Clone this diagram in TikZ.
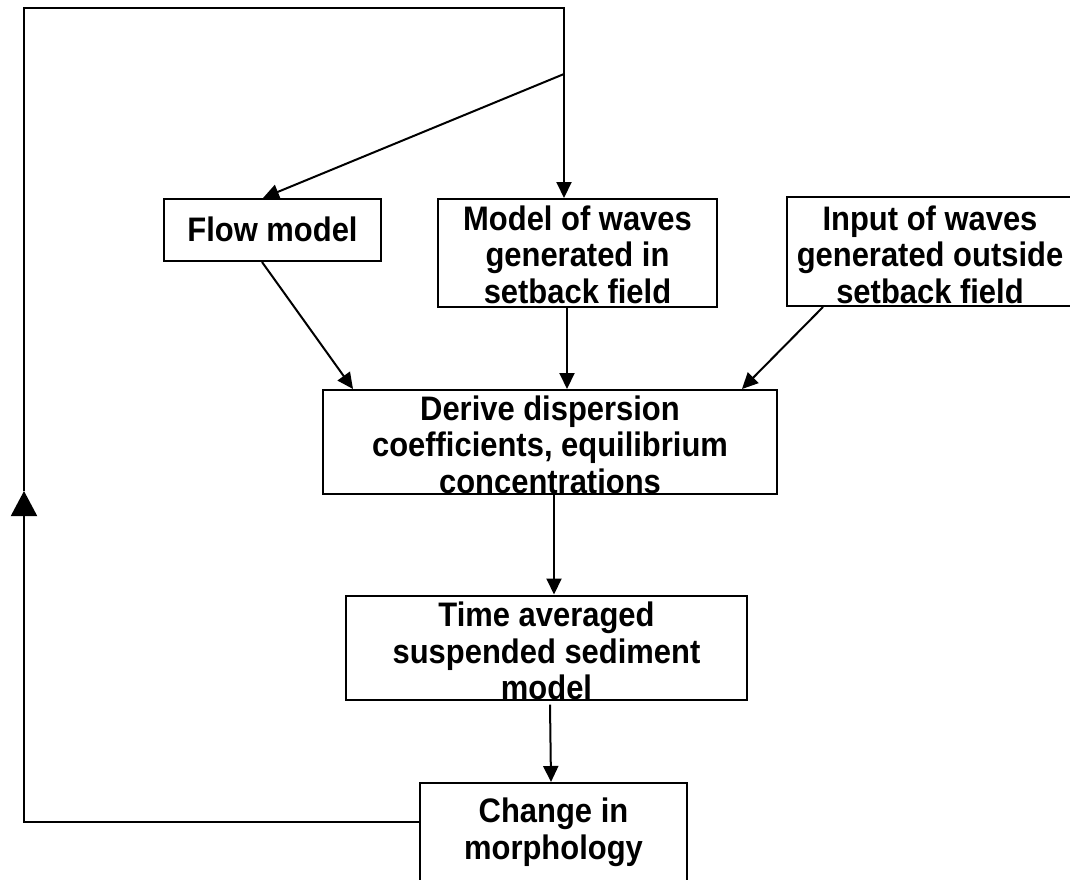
\documentclass[tikz,border=0pt]{standalone}
\usepackage{fontspec}
\setmainfont{Liberation Sans}[FakeStretch=0.91]
\usetikzlibrary{arrows.meta}
\begin{document}
\begin{tikzpicture}[x=1pt,y=-1pt,
    box/.style={draw,line width=2pt,inner sep=0pt,align=center,
      font=\fontsize{34}{36.5}\selectfont\bfseries},
    arr/.style={line width=2pt,-{Triangle[length=16pt,width=15pt]}},
    bigarr/.style={line width=2pt,-{Triangle[length=25pt,width=26pt]}}]
  \useasboundingbox (0,0) rectangle (1070,879);
  \node[box,minimum width=217pt,text height=42pt,text depth=20pt]
    (flow) at (272.5,230) {Flow model};
  \node[box,minimum width=279pt,text height=104pt,text depth=4pt]
    (waves) at (577.5,253) {Model of waves\\generated in\\setback field};
  \node[box,minimum width=286pt,text height=106pt,text depth=3pt]
    (input) at (930,251.5) {Input of waves\\generated outside\\setback field};
  \node[box,minimum width=454pt,text height=103pt,text depth=1pt]
    (derive) at (550,442) {Derive dispersion\\coefficients, equilibrium\\concentrations};
  \node[box,minimum width=401pt,text height=104pt,text depth=-3pt]
    (timeavg) at (546.5,647.5) {Time averaged\\suspended sediment\\model};
  \node[box,minimum width=267pt,text height=76pt,text depth=28pt]
    (change) at (553.5,835) {Change in\\morphology};
  % feedback loop
  \coordinate (loopbl) at (24,822);
  \coordinate (looptip) at (24,491);
  \coordinate (looptl) at (24,8);
  \coordinate (looptr) at (564,8);
  \coordinate (split) at (564,74);
  \draw[bigarr] ([yshift=13pt]change.west) -- (loopbl) -- (looptip);
  \draw[arr] (looptip) -- (looptl) -- (looptr) -- (looptr |- waves.north);
  \draw[arr] (split) -- ([xshift=-9.5pt]flow.north);
  % inputs to the dispersion step
  \draw[arr] ([xshift=-10.5pt]flow.south) -- ([xshift=-197pt]derive.north);
  \draw[arr] ([xshift=-10.5pt]waves.south) -- ([xshift=17pt]derive.north);
  \draw[arr] ([xshift=-107pt]input.south) -- ([xshift=192pt]derive.north);
  \draw[arr] ([xshift=4pt]derive.south) -- ([xshift=7.5pt]timeavg.north);
  \draw[arr] ([xshift=3.5pt,yshift=-4pt]timeavg.south) -- ([xshift=-2.5pt]change.north);
\end{tikzpicture}
\end{document}
